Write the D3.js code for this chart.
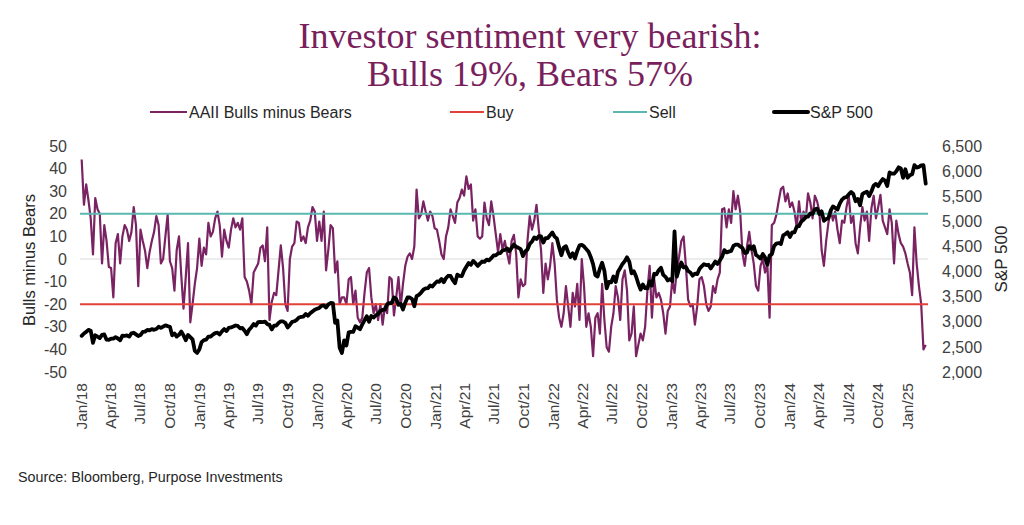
<!DOCTYPE html>
<html><head><meta charset="utf-8">
<script src="https://cdn.jsdelivr.net/npm/d3@7"></script>
<style>
body{margin:0;background:#fff}
text{font-family:"Liberation Sans",Arial,sans-serif}
</style>
</head><body>
<svg id="chart" width="1024" height="525"></svg>
<script>
// ---------- DATA ----------
const firstWeek = "2018-01-04";           // weekly observations (Thursdays)
const aaiiSpread = [
 44,24,33,26,18,2,27,22,20,-2,15,8,-3.5,-4,-17,7,11,-2,10,15,13,8,12,23,15,-12,13,8,3.6,-4,
 3,8,12,19,15,-2,0,10,19.6,-1,-4,-14,4,10,-7,-22,-8,7,-28,-20,-11,-4,9,-3,5,2,16,10,12,18,
 21,15,1,13,8,5,13,18,14,16,13,18,-8,-10,-14,-20,-6,-4,-2,5,6,-1,14,-27,-19,-15,-16,-5,6,-4,
 -20,-23,
 0,5.5,7,16.6,16,8,10,7,14,17,23,21,8,16.6,8,21,-5,4,15,13.6,-6,-1,-20,-17,-17,-20,-9,-8,-20,-14,
 -26,-28,-26,-15,-6,-4,-17,-24,-20,-27,-20,-29,-21,-24,-8,-9,-25,-17,-8,-21,-11,-3,1,2.5,0,5.5,
 30.7,18,19.6,25.5,21,17,21,19,13.6,13,8,2,0,10,14,22,19,16,25,27,30.7,28,36.6,31,33,17,22,10,9,
 10,25,18,15,25.5,19,11,3,
 11,4,8,2.5,-2,8,10.7,2.5,-17,-9,-12,-11,8,19,13,17,24,13,4,-15,-2,-9,-3,7,-2,-18,-26,-30,-24,-12,
 -21,-30,-15,-21,-11,-27,0,-12,-30,-24,-30,-43,-26,-24,-33,-11,-27,-39,-41,-30,-24,-12,-17,-27,-9,
 -5,-14,-36,-33,-21,-43,-38,-33,-36,-30,-14,-3,-26,-9,-17,-15,-18,-24,-33,-23,-21,-9,-15,-5,1,8,10,
 -3,-18,-21,-20,-29,-21,-9,-8,-12,-20,-23,
 -21,-12,-15,-9,-6,22,22.5,14,22,16,30,22,28,21,2.5,-3,5.5,12,4,-2,-12,-14,-3,0,-6,-2,-26,15,16,
 19.6,25.5,31,32,25.5,29,23,25,21,14,25.5,16,21,18,29,25,18,28,25.5,21,4,-3,8,16,22,17,21,13,7,17,
 16,23,28,16,19,7,2.5,14,23,17,21,8,22.5,28,18,23,28.4,17,14,11,22,16,-2,17,11,7,5.5,2.5,-2,-6,-16,
 14,-2,-12,-20,-40,-38
];
const spx = [
 // 2018
 2720,2767,2798,2839, 2822,2581,2731,2703, 2677,2738,2747,2643,2641, 2663,2663,2693,2667,
 2630,2723,2720,2727,2705, 2770,2782,2749,2716, 2736,2798,2804,2838, 2827,2853,2840,2856,2901,
 2878,2904,2930,2914, 2901,2729,2768,2705, 2740,2806,2730,2633,2737, 2695,2650,2420,2380,
 // 2019
 2448,2596,2635,2643,2704, 2707,2745,2775,2784, 2749,2808,2854,2815, 2879,2888,2905,2926,
 2917,2870,2876,2823,2752, 2843,2892,2954,2924, 2995,3000,2995,3003, 2954,2938,2848,2923,2924,
 2976,3009,3006,2977, 2887,2938,2998,3010,3037, 3085,3096,3103,3154, 3118,3168,3205,3240,
 // 2020
 3258,3275,3317,3326,3284, 3345,3374,3373,2979, 3024,2481,2380,2630, 2527,2790,2800,2798,2912,
 2882,2852,2948,3030, 3112,3002,3115,3084, 3130,3152,3215,3236,3246, 3349,3373,3374,3484,
 3455,3339,3357,3246, 3381,3483,3483,3453,3310, 3510,3537,3582,3638, 3666,3669,3722,3703,3756,
 // 2021
 3803,3796,3853,3787, 3871,3916,3913,3829, 3768,3939,3915,3909, 4020,4097,4170,4135,4211,
 4168,4112,4159,4200, 4192,4239,4222,4266, 4320,4321,4360,4367,4419, 4429,4460,4406,4470,
 4537,4493,4473,4448,4307, 4399,4438,4549,4597, 4680,4649,4704,4701, 4577,4667,4668,4725,4778,
 // 2022
 4696,4659,4482,4326, 4478,4504,4380,4289, 4363,4260,4411,4520,4530, 4500,4446,4393,4287,
 4147,3930,3901,4057, 4177,4017,3666,3795,3785, 3902,3790,3998,4072, 4152,4207,4283,4199,
 3966,4006,3901,3757,3640, 3744,3669,3666,3807, 3719,3956,3946,4027, 4076,3934,3895,3822,3849,
 // 2023
 3808,4800,3898,4060, 4179,4081,4090,4012, 3981,3918,3960,3948,4050, 4105,4146,4129,4135,
 4061,4130,4198,4151, 4221,4293,4426,4381,4396, 4411,4510,4535,4537, 4501,4468,4370,4376,4507,
 4451,4505,4330,4299, 4258,4349,4278,4137, 4317,4347,4508,4556,4568, 4549,4719,4746,4783,
 // 2024
 4688,4780,4780,4894, 4906,4997,5030,5087,5096, 5157,5150,5241,5254, 5147,5199,5011,5048,
 5064,5214,5297,5268,5235, 5352,5433,5473,5483, 5537,5584,5544,5399, 5446,5319,5543,5570,5591,
 5503,5595,5713,5745, 5700,5780,5841,5810,5705, 5973,5949,5949,5998, 6075,6051,5867,6037,
 // 2025
 5869,5918,5937,6118,6071, 6083,6115,6117,5750
];
const buyLevel = -20;
const sellLevel = 20;
const leftTicks = [50,40,30,20,10,0,-10,-20,-30,-40,-50];
const rightTicks = [6500,6000,5500,5000,4500,4000,3500,3000,2500,2000];
const xTickFirst = "2018-01-01", xTickLast = "2025-01-01";
const titleLines = ["Investor sentiment very bearish:", "Bulls 19%, Bears 57%"];
const seriesNames = ["AAII Bulls minus Bears", "Buy", "Sell", "S&P 500"];
const sourceText = "Source: Bloomberg, Purpose Investments";

// ---------- STYLE / LAYOUT ----------
const C = {aaii:"#7A2363", buy:"#E2413A", sell:"#5BB8B1", spx:"#000000", zero:"#D9D9D9", txt:"#404040"};
const plotL = 80, plotR = 928, plotT = 146, plotB = 372;

const svg = d3.select("#chart");
svg.append("rect").attr("width",1024).attr("height",525).attr("fill","#fff");

const parse = d3.utcParse("%Y-%m-%d");
const t0 = parse(firstWeek);
const dates = aaiiSpread.map((_, i) => d3.utcDay.offset(t0, 7 * i));

const x = d3.scaleUtc().domain([parse(xTickFirst), parse(xTickLast)]).range([80.7, 907.3]);
const yL = d3.scaleLinear().domain([-50, 50]).range([plotB, plotT]);
const yR = d3.scaleLinear().domain([2000, 6500]).range([plotB, plotT]);

// Title
svg.selectAll("text.title").data(titleLines).join("text")
  .attr("class","title")
  .attr("x", 530).attr("y", (d,i) => 48 + i*38)
  .attr("text-anchor","middle")
  .style("font-family","'Liberation Serif','Times New Roman',serif")
  .style("font-size","36px").attr("fill","#7A1F5E")
  .text(d => d);

// Legend
const legendPos = [{x:150,w:37,c:C.aaii,sw:2.2},{x:450,w:34,c:C.buy,sw:2},{x:613,w:34,c:C.sell,sw:2},{x:774,w:34,c:C.spx,sw:4}];
const lg = svg.append("g");
seriesNames.forEach((n,i) => {
  const p = legendPos[i];
  lg.append("line").attr("x1",p.x).attr("x2",p.x+p.w).attr("y1",112).attr("y2",112)
    .attr("stroke",p.c).attr("stroke-width",p.sw).attr("stroke-linecap", i===3?"round":"butt");
  lg.append("text").attr("x",p.x+p.w+2).attr("y",112).attr("dy","0.35em")
    .style("font-size","16px").attr("fill","#262626").text(n);
});

// zero gridline
svg.append("line").attr("x1",plotL).attr("x2",plotR).attr("y1",yL(0)).attr("y2",yL(0))
  .attr("stroke",C.zero).attr("stroke-width",1);

// Axes
const axL = svg.append("g").attr("transform",`translate(${plotL},0)`)
  .call(d3.axisLeft(yL).tickValues(leftTicks).tickSize(0).tickPadding(13).tickFormat(d => String(d)));
const axR = svg.append("g").attr("transform",`translate(${plotR},0)`)
  .call(d3.axisRight(yR).tickValues(rightTicks).tickSize(0).tickPadding(14).tickFormat(d3.format(",")));
[axL, axR].forEach(a => {
  a.select(".domain").remove();
  a.selectAll("text").style("font-size","16px").style("font-family","'Liberation Sans',Arial,sans-serif").attr("fill",C.txt);
});

const quarterTicks = d3.utcMonth.every(3).range(parse(xTickFirst), d3.utcDay.offset(parse(xTickLast),1));
const axX = svg.append("g").attr("transform",`translate(0,${plotB})`)
  .call(d3.axisBottom(x).tickValues(quarterTicks).tickSize(0).tickFormat(d3.utcFormat("%b/%y")));
axX.select(".domain").remove();
axX.selectAll("text")
  .attr("transform","rotate(-90)").attr("text-anchor","end")
  .attr("x",-11).attr("y",0).attr("dy","0.35em")
  .style("font-size","15.5px").style("font-family","'Liberation Sans',Arial,sans-serif").attr("fill",C.txt);

// Axis titles
svg.append("text").attr("transform","translate(29,260) rotate(-90)").attr("text-anchor","middle")
  .attr("dy","0.35em").style("font-size","16.5px").attr("fill","#262626").text("Bulls minus Bears");
svg.append("text").attr("transform","translate(1001,259) rotate(-90)").attr("text-anchor","middle")
  .attr("dy","0.35em").style("font-size","17px").attr("fill","#262626").text("S&P 500");

// Series
const lineL = d3.line().x((d,i) => x(dates[i])).y(d => yL(d));
const lineR = d3.line().x((d,i) => x(dates[i])).y(d => yR(d));

svg.append("path").datum(aaiiSpread).attr("d", lineL)
  .attr("fill","none").attr("stroke",C.aaii).attr("stroke-width",2.2).attr("stroke-linejoin","round");

svg.append("line").attr("x1",plotL).attr("x2",plotR).attr("y1",yL(buyLevel)).attr("y2",yL(buyLevel))
  .attr("stroke",C.buy).attr("stroke-width",2);
svg.append("line").attr("x1",plotL).attr("x2",plotR).attr("y1",yL(sellLevel)).attr("y2",yL(sellLevel))
  .attr("stroke",C.sell).attr("stroke-width",2);

svg.append("path").datum(spx).attr("d", lineR)
  .attr("fill","none").attr("stroke",C.spx).attr("stroke-width",3.8)
  .attr("stroke-linejoin","round").attr("stroke-linecap","round");

// Source
svg.append("text").attr("x",18).attr("y",482).style("font-size","14.3px").attr("fill","#262626").text(sourceText);
</script>
</body></html>
